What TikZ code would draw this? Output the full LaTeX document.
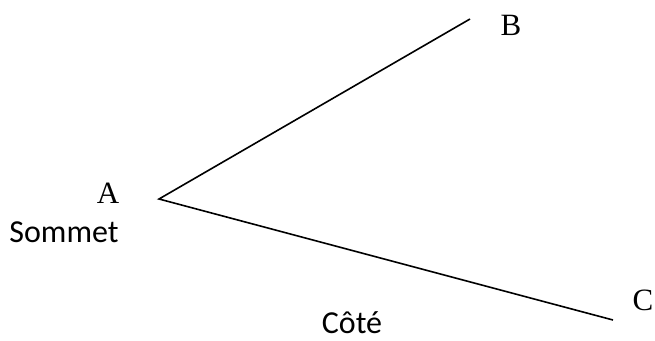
\documentclass[tikz,border=0pt]{standalone}
\usepackage{fontspec}
\setmainfont{Liberation Serif}
\newfontfamily\calibrifont{Carlito}
\begin{document}
\begin{tikzpicture}[x=1pt,y=-1pt,line width=1.6pt,
  letter/.style={anchor=base,inner sep=0pt,font=\fontsize{31}{37}\selectfont},
  caption/.style={anchor=base,inner sep=0pt,font=\calibrifont\fontsize{32}{38}\selectfont}]

  \useasboundingbox (0,0) rectangle (655,340);

  % --- vertex and ends of the two sides ---
  \coordinate (A) at (159,199);
  \coordinate (B) at (470,19);
  \coordinate (C) at (613,320);

  % --- the two sides of the angle ---
  \draw (B) -- (A) -- (C);

  % --- letters ---
  \node[letter] (labA) at (108,203) {A};
  \node[letter] (labB) at (511,35) {B};
  \node[letter] (labC) at (643,310) {C};

  % --- words ---
  \node[caption] (sommet) at (64,242) {Sommet};
  \node[caption] (cote) at (352,333) {Côté};

\end{tikzpicture}
\end{document}
